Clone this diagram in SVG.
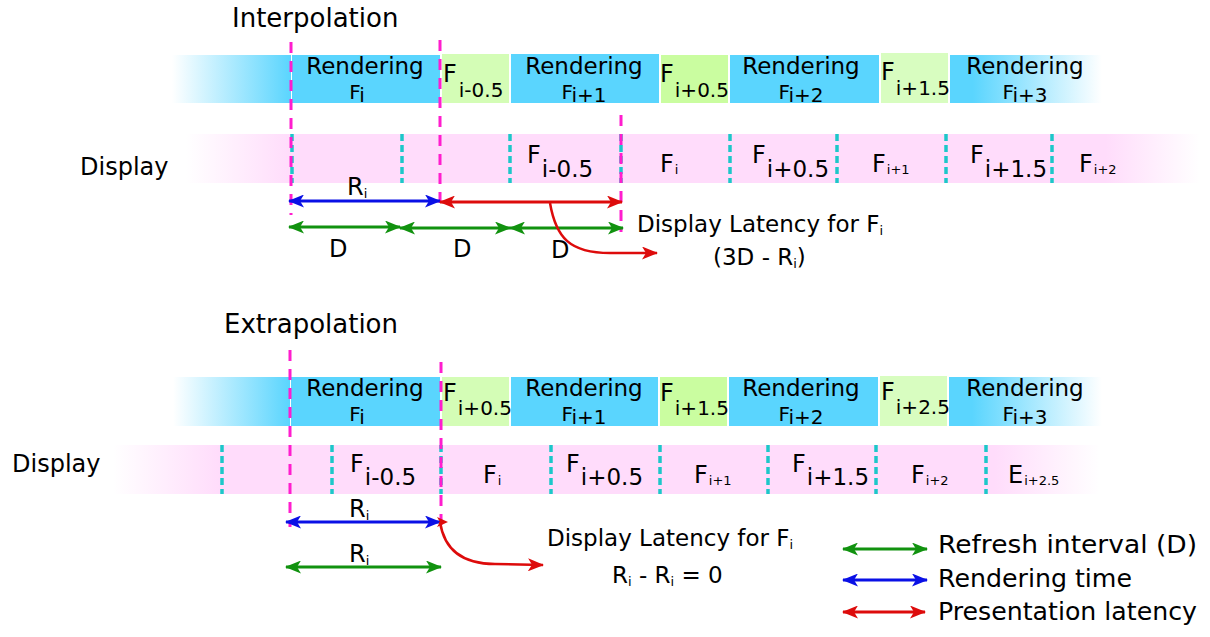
<svg xmlns="http://www.w3.org/2000/svg" width="1210" height="637" viewBox="0 0 1210 637">
<defs>
<style>
text{font-family:"DejaVu Sans","Noto Sans",sans-serif;fill:#000}
.title{font-size:26px}
.rend{font-size:23px;text-anchor:middle}
.rf{font-size:20px;text-anchor:middle}
.lab{font-size:24px}
.lat{font-size:23px}
.leg{font-size:25px}
.blue{fill:#5AD5FE}
.g1{fill:#D4FDB6}
.g2{fill:#CAFDA0}
.g3{fill:#D8FDC0}
.mag{stroke:#FF1DCE;stroke-width:3;stroke-dasharray:11 8;fill:none}
.cy{stroke:#1CC7C9;stroke-width:3.5;stroke-dasharray:7 4;fill:none}
.ag{stroke:#11920F;stroke-width:3;fill:none;marker-start:url(#hg);marker-end:url(#hg)}
.ab{stroke:#0A10E6;stroke-width:3;fill:none;marker-start:url(#hb);marker-end:url(#hb)}
.ar{stroke:#DD0B0B;stroke-width:3;fill:none;marker-start:url(#hr);marker-end:url(#hr)}
.cr{stroke:#DD0B0B;stroke-width:2.5;fill:none;marker-end:url(#hr)}
</style>
<marker id="hg" viewBox="0 0 16 13" markerUnits="userSpaceOnUse" markerWidth="16" markerHeight="13" refX="15" refY="6.5" orient="auto-start-reverse"><path d="M0,0 L16,6.5 L0,13 L4,6.5 Z" fill="#11920F"/></marker>
<marker id="hb" viewBox="0 0 16 13" markerUnits="userSpaceOnUse" markerWidth="16" markerHeight="13" refX="15" refY="6.5" orient="auto-start-reverse"><path d="M0,0 L16,6.5 L0,13 L4,6.5 Z" fill="#0A10E6"/></marker>
<marker id="hr" viewBox="0 0 16 13" markerUnits="userSpaceOnUse" markerWidth="16" markerHeight="13" refX="15" refY="6.5" orient="auto-start-reverse"><path d="M0,0 L16,6.5 L0,13 L4,6.5 Z" fill="#DD0B0B"/></marker>
<linearGradient id="bl" x1="0" y1="0" x2="1" y2="0"><stop offset="0" stop-color="#5AD5FE" stop-opacity="0"/><stop offset="1" stop-color="#5AD5FE"/></linearGradient>
<linearGradient id="br" x1="0" y1="0" x2="1" y2="0"><stop offset="0" stop-color="#5AD5FE"/><stop offset="0.15" stop-color="#5AD5FE"/><stop offset="1" stop-color="#5AD5FE" stop-opacity="0"/></linearGradient>
<linearGradient id="pk1" x1="0" y1="0" x2="1" y2="0"><stop offset="0" stop-color="#FFDCFB" stop-opacity="0"/><stop offset="0.103" stop-color="#FFDCFB"/><stop offset="0.907" stop-color="#FFDCFB"/><stop offset="1" stop-color="#FFDCFB" stop-opacity="0"/></linearGradient>
<linearGradient id="pk2" x1="0" y1="0" x2="1" y2="0"><stop offset="0" stop-color="#FFDCFB" stop-opacity="0"/><stop offset="0.108" stop-color="#FFDCFB"/><stop offset="0.893" stop-color="#FFDCFB"/><stop offset="1" stop-color="#FFDCFB" stop-opacity="0"/></linearGradient>
</defs>
<rect width="1210" height="637" fill="#fff"/>

<!-- ========== INTERPOLATION ========== -->
<text id="t-interp" class="title" x="232" y="27">Interpolation</text>

<g id="i-render">
  <g id="i-rf0"><rect x="172" y="55" width="119" height="48" fill="url(#bl)"/><rect class="blue" x="292" y="55" width="148" height="48"/><text class="rend" x="365" y="74">Rendering</text><text class="rf" x="357" y="99">F<tspan dy="3">i</tspan></text></g>
  <g id="i-g0"><rect class="g1" x="442" y="54" width="67" height="49"/><text class="lab" x="443" y="82" font-size="25">F<tspan dx="2" dy="15" font-size="20">i-0.5</tspan></text></g>
  <g id="i-rf1"><rect class="blue" x="511" y="54" width="148" height="49"/><text class="rend" x="584" y="74">Rendering</text><text class="rf" x="584" y="99">F<tspan dy="3">i+1</tspan></text></g>
  <g id="i-g1"><rect class="g2" x="661" y="55" width="67" height="48"/><text class="lab" x="660" y="82" font-size="25">F<tspan dx="1" dy="15" font-size="20">i+0.5</tspan></text></g>
  <g id="i-rf2"><rect class="blue" x="730" y="55" width="149" height="48"/><text class="rend" x="801" y="74">Rendering</text><text class="rf" x="801" y="99">F<tspan dy="3">i+2</tspan></text></g>
  <g id="i-g2"><rect class="g3" x="881" y="53" width="67" height="50"/><text class="lab" x="881" y="80" font-size="25">F<tspan dx="1" dy="15" font-size="20">i+1.5</tspan></text></g>
  <g id="i-rf3"><rect x="950" y="55" width="152" height="48" fill="url(#br)"/><text class="rend" x="1025" y="74">Rendering</text><text class="rf" x="1025" y="99">F<tspan dy="3">i+3</tspan></text></g>
</g>

<text id="i-display-label" class="lab" x="80" y="175">Display</text>
<g id="i-display">
  <rect x="186" y="134" width="1014" height="49" fill="url(#pk1)"/>
  <g id="i-d1"><text class="lab" x="527" y="163" font-size="25">F<tspan dx="1" dy="14" font-size="23">i-0.5</tspan></text></g>
  <g id="i-d2"><text class="lab" x="660" y="172" font-size="26">F<tspan dx="1" dy="2" font-size="13">i</tspan></text></g>
  <g id="i-d3"><text class="lab" x="752" y="163" font-size="25">F<tspan dx="1" dy="14" font-size="23">i+0.5</tspan></text></g>
  <g id="i-d4"><text class="lab" x="872" y="172" font-size="26">F<tspan dx="1" dy="2" font-size="13">i+1</tspan></text></g>
  <g id="i-d5"><text class="lab" x="970" y="163" font-size="25">F<tspan dx="1" dy="14" font-size="23">i+1.5</tspan></text></g>
  <g id="i-d6"><text class="lab" x="1079" y="172" font-size="26">F<tspan dx="1" dy="2" font-size="13">i+2</tspan></text></g>
  <path class="cy" d="M292,134V183M402,134V183M510,134V183M621,134V183M730,134V183M837,134V183M946,134V183M1052,134V183"/>
</g>

<g id="i-markers">
  <path class="mag" d="M291,42V215M440,40V208M621,115V232"/>
</g>

<g id="i-connectors">
  <path class="ab" d="M289,201H440"/>
  <path class="ar" d="M440,202H622"/>
  <path class="ag" d="M289,227H400"/>
  <path class="ag" d="M400,228H510"/>
  <path class="ag" d="M510,228H623"/>
  <path class="cr" d="M550,203C556,238 570,253 610,253L657,253"/>
</g>

<g id="i-labels">
  <text class="lab" x="347" y="195" font-size="25">R<tspan dy="3" font-size="13">i</tspan></text>
  <text class="lab" x="329" y="257" font-size="25">D</text>
  <text class="lab" x="453" y="257" font-size="25">D</text>
  <text class="lab" x="551" y="258" font-size="25">D</text>
  <text class="lat" x="637" y="232">Display Latency for F<tspan dy="3" font-size="13">i</tspan></text>
  <text class="lat" x="713" y="265">(3D - R<tspan dy="3" font-size="13">i</tspan><tspan dy="-3">)</tspan></text>
</g>

<!-- ========== EXTRAPOLATION ========== -->
<text id="t-extrap" class="title" x="224" y="333">Extrapolation</text>

<g id="e-render">
  <g id="e-rf0"><rect x="173" y="377" width="117" height="49" fill="url(#bl)"/><rect class="blue" x="291" y="377" width="149" height="49"/><text class="rend" x="365" y="396">Rendering</text><text class="rf" x="357" y="421">F<tspan dy="3">i</tspan></text></g>
  <g id="e-g0"><rect class="g1" x="442" y="377" width="67" height="49"/><text class="lab" x="443" y="401" font-size="25">F<tspan dx="1" dy="14" font-size="20">i+0.5</tspan></text></g>
  <g id="e-rf1"><rect class="blue" x="511" y="377" width="147" height="49"/><text class="rend" x="584" y="396">Rendering</text><text class="rf" x="584" y="421">F<tspan dy="3">i+1</tspan></text></g>
  <g id="e-g1"><rect class="g2" x="660" y="377" width="67" height="49"/><text class="lab" x="660" y="401" font-size="25">F<tspan dx="1" dy="14" font-size="20">i+1.5</tspan></text></g>
  <g id="e-rf2"><rect class="blue" x="729" y="377" width="149" height="49"/><text class="rend" x="801" y="396">Rendering</text><text class="rf" x="801" y="421">F<tspan dy="3">i+2</tspan></text></g>
  <g id="e-g2"><rect class="g3" x="880" y="376" width="67" height="50"/><text class="lab" x="881" y="400" font-size="25">F<tspan dx="1" dy="14" font-size="20">i+2.5</tspan></text></g>
  <g id="e-rf3"><rect x="949" y="377" width="153" height="49" fill="url(#br)"/><text class="rend" x="1025" y="396">Rendering</text><text class="rf" x="1025" y="421">F<tspan dy="3">i+3</tspan></text></g>
</g>

<text id="e-display-label" class="lab" x="12" y="472">Display</text>
<g id="e-display">
  <rect x="113" y="445" width="987" height="49" fill="url(#pk2)"/>
  <g id="e-d1"><text class="lab" x="350" y="472" font-size="25">F<tspan dx="1" dy="13" font-size="23">i-0.5</tspan></text></g>
  <g id="e-d2"><text class="lab" x="483" y="483" font-size="26">F<tspan dx="1" dy="2" font-size="13">i</tspan></text></g>
  <g id="e-d3"><text class="lab" x="566" y="472" font-size="25">F<tspan dx="1" dy="13" font-size="23">i+0.5</tspan></text></g>
  <g id="e-d4"><text class="lab" x="694" y="483" font-size="26">F<tspan dx="1" dy="2" font-size="13">i+1</tspan></text></g>
  <g id="e-d5"><text class="lab" x="792" y="472" font-size="25">F<tspan dx="1" dy="13" font-size="23">i+1.5</tspan></text></g>
  <g id="e-d6"><text class="lab" x="911" y="483" font-size="26">F<tspan dx="1" dy="2" font-size="13">i+2</tspan></text></g>
  <g id="e-d7"><text class="lab" x="1008" y="483" font-size="26">E<tspan dx="1" dy="2" font-size="13">i+2.5</tspan></text></g>
  <path class="cy" d="M222,445V494M332,445V494M441,445V494M551,445V494M660,445V494M768,445V494M876,445V494M986,445V494"/>
</g>

<g id="e-markers">
  <path class="mag" d="M290,350V527M441,362V530"/>
</g>

<g id="e-connectors">
  <path class="ab" d="M286,522H440"/>
  <path class="ag" d="M286,567H441"/>
  <path class="cr" d="M440,522C444,548 460,564 495,564L543,565"/>
  <path d="M437,517L448,522L437,527L440,522Z" fill="#DD0B0B"/>
</g>

<g id="e-labels">
  <text class="lab" x="349" y="517" font-size="25">R<tspan dy="3" font-size="13">i</tspan></text>
  <text class="lab" x="349" y="562" font-size="25">R<tspan dy="3" font-size="13">i</tspan></text>
  <text class="lat" x="547" y="546">Display Latency for F<tspan dy="3" font-size="13">i</tspan></text>
  <text class="lat" x="612" y="583">R<tspan dy="3" font-size="13">i</tspan><tspan dy="-3"> - R</tspan><tspan dy="3" font-size="13">i</tspan><tspan dy="-3"> = 0</tspan></text>
</g>

<!-- ========== LEGEND ========== -->
<g id="legend">
  <g id="leg-refresh"><path class="ag" d="M843,549H927"/><text class="leg" x="938" y="553" textLength="259" lengthAdjust="spacingAndGlyphs">Refresh interval (D)</text></g>
  <g id="leg-render"><path class="ab" d="M843,580H927"/><text class="leg" x="938" y="587" textLength="194" lengthAdjust="spacingAndGlyphs">Rendering time</text></g>
  <g id="leg-present"><path class="ar" d="M843,612H925"/><text class="leg" x="938" y="620" textLength="259" lengthAdjust="spacingAndGlyphs">Presentation latency</text></g>
</g>
</svg>
